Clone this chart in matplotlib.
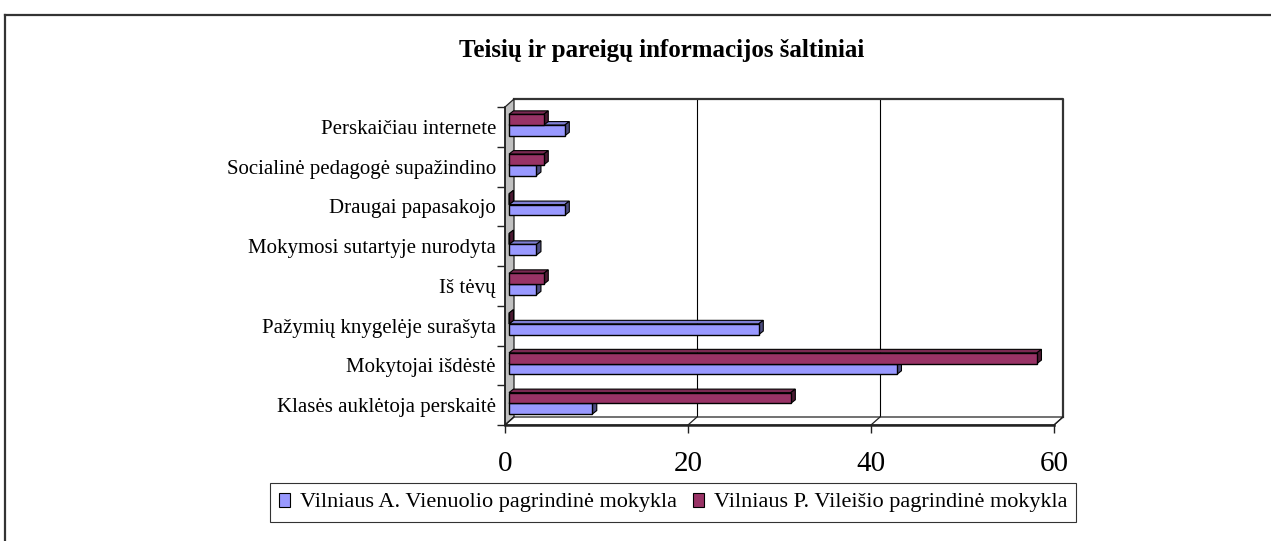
import matplotlib
matplotlib.use("Agg")
import matplotlib.pyplot as plt
from matplotlib.patches import Polygon, Patch
from matplotlib.lines import Line2D

# ---- data (bottom to top) ----
categories = [
    "Klasės auklėtoja perskaitė",
    "Mokytojai išdėstė",
    "Pažymių knygelėje surašyta",
    "Iš tėvų",
    "Mokymosi sutartyje nurodyta",
    "Draugai papasakojo",
    "Socialinė pedagogė supažindino",
    "Perskaičiau internete",
]
vienuolio = [9.1, 42.4, 27.3, 3.0, 3.0, 6.1, 3.0, 6.1]
vileisio = [30.8, 57.7, 0.0, 3.8, 0.0, 0.0, 3.8, 3.8]
series_names = ["Vilniaus A. Vienuolio pagrindinė mokykla",
                "Vilniaus P. Vileišio pagrindinė mokykla"]
x_ticks = [0, 20, 40, 60]
title = "Teisių ir pareigų informacijos šaltiniai"

# ---- styling ----
W, H = 1271, 541
FONT = "Liberation Serif"
blue_front, blue_top, blue_side = "#9999FF", "#7F7FD4", "#4D4D80"
red_front, red_top, red_side = "#993366", "#7A2952", "#4D1A33"
wall_grey = "#C0C0C0"

fig = plt.figure(figsize=(W / 100, H / 100), dpi=100)
fig.patch.set_facecolor("white")

# front plane pixel extents
L, R, T, B = 505, 1054, 107, 425
ax = fig.add_axes([L / W, 1 - B / H, (R - L) / W, (B - T) / H])
n = len(categories)
ax.set_xlim(0, 60)
ax.set_ylim(-0.5, n - 0.5)
for s in ax.spines.values():
    s.set_visible(False)
ax.patch.set_alpha(0)

ux = 60 / (R - L)   # data units per pixel in x
uy = n / (B - T)    # data units per pixel in y
DX, DY = 9 * ux, 8 * uy          # depth of the plot box
bdx, bdy = 4.5 * ux, 3.5 * uy    # depth of each bar
x0 = 4 * ux                      # bars start slightly behind front plane

ymin, ymax = -0.5, n - 0.5

# back wall
ax.add_patch(Polygon([(DX, ymin + DY), (60 + DX, ymin + DY), (60 + DX, ymax + DY), (DX, ymax + DY)],
                     closed=True, facecolor="white", edgecolor="none", zorder=0.5, clip_on=False))
ax.plot([DX, 60 + DX, 60 + DX], [ymax + DY, ymax + DY, ymin + DY], color="#333333", lw=1.6,
        zorder=0.8, clip_on=False, solid_capstyle="projecting")
for xv in x_ticks[1:-1]:
    ax.plot([xv + DX, xv + DX], [ymin + DY, ymax + DY], color="black", lw=0.8, zorder=0.7, clip_on=False)

# left wall
ax.add_patch(Polygon([(0, ymin), (DX, ymin + DY), (DX, ymax + DY), (0, ymax)], closed=True,
                     facecolor=wall_grey, edgecolor="#222222", lw=0.9, zorder=1, clip_on=False))

# floor
ax.add_patch(Polygon([(0, ymin), (60, ymin), (60 + DX, ymin + DY), (DX, ymin + DY)], closed=True,
                     facecolor="white", edgecolor="#222222", lw=0.9, zorder=1, clip_on=False))
for xv in x_ticks:
    ax.plot([xv, xv + DX], [ymin, ymin + DY], color="#222222", lw=0.9, zorder=1.1, clip_on=False)
ax.plot([0, 60], [ymin, ymin], color="#222222", lw=1.8, zorder=1.2, clip_on=False)
ax.plot([0, 0], [ymin, ymax], color="#222222", lw=1.2, zorder=1.2, clip_on=False)

# bars
h = 0.27
def draw_bar(yc, v, cf, ct, cs, z):
    y0 = yc - h / 2
    xs = x0
    top = [(xs, y0 + h), (xs + v, y0 + h), (xs + v + bdx, y0 + h + bdy), (xs + bdx, y0 + h + bdy)]
    side = [(xs + v, y0), (xs + v + bdx, y0 + bdy), (xs + v + bdx, y0 + h + bdy), (xs + v, y0 + h)]
    ax.add_patch(Polygon(top, closed=True, facecolor=ct, edgecolor="black", lw=0.8, zorder=z, clip_on=False))
    ax.add_patch(Polygon(side, closed=True, facecolor=cs, edgecolor="black", lw=0.8, zorder=z, clip_on=False))
    ax.barh([yc], [v], height=h, left=xs, color=cf, edgecolor="black", lw=1.0, zorder=z + 0.1, clip_on=False)

for i in range(n - 1, -1, -1):
    draw_bar(i - 0.09, vienuolio[i], blue_front, blue_top, blue_side, 3 + (n - i) * 0.5)
    draw_bar(i + 0.18, vileisio[i], red_front, red_top, red_side, 3.2 + (n - i) * 0.5)

# ticks
ax.set_yticks([k - 0.5 for k in range(n + 1)])
ax.set_yticklabels([])
ax.set_yticks(range(n), minor=True)
ax.set_yticklabels(categories, minor=True, fontsize=15, family=FONT)
ax.tick_params(axis="y", which="major", length=6, width=1, color="#222222", direction="out")
ax.tick_params(axis="y", which="minor", length=0, pad=6.5)
ax.set_xticks(x_ticks)
ax.set_xticklabels([str(v) for v in x_ticks], fontsize=21, family=FONT)
ax.tick_params(axis="x", length=6, width=1, color="#222222", direction="out", pad=13)

# title
fig.text(662 / W, 1 - 50 / H, title, ha="center", va="center", fontsize=18,
         fontweight="bold", family=FONT)

# legend
handles = [Patch(facecolor=blue_front, edgecolor="black", lw=0.8),
           Patch(facecolor=red_front, edgecolor="black", lw=0.8)]
leg = fig.legend(handles, series_names, loc="center", bbox_to_anchor=(673 / W, 1 - 502.5 / H),
                 bbox_transform=fig.transFigure, ncol=2, frameon=True, fancybox=False,
                 edgecolor="black", prop={"family": FONT, "size": 16}, handlelength=0.5,
                 handleheight=0.6, handletextpad=0.45, columnspacing=0.7, borderpad=0.42,
                 borderaxespad=0)
leg.get_frame().set_linewidth(0.8)

# outer chart frame (right/bottom edges lie outside the picture)
fig.add_artist(Line2D([5 / W, 1.0], [1 - 15 / H, 1 - 15 / H], transform=fig.transFigure,
                      color="#333333", lw=1.6))
fig.add_artist(Line2D([5 / W, 5 / W], [1 - 15 / H, 0.0], transform=fig.transFigure,
                      color="#333333", lw=1.6))

fig.savefig("out.png", dpi=100)
